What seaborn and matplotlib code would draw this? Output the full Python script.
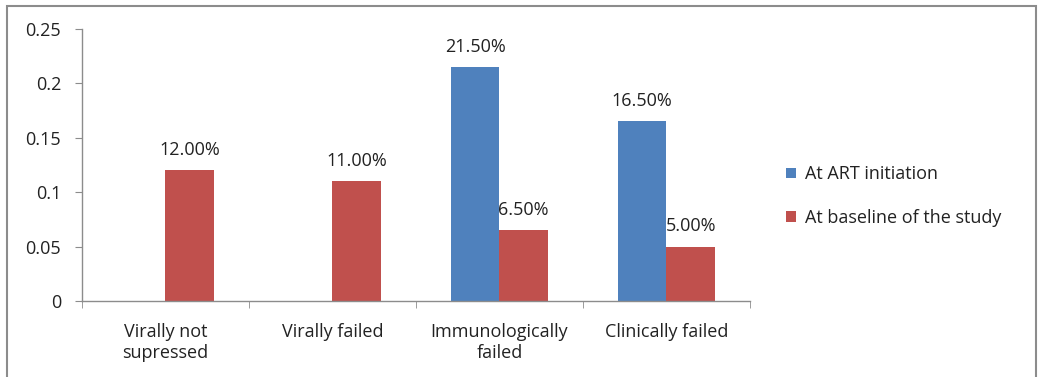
import matplotlib
matplotlib.use("Agg")
import matplotlib.pyplot as plt
import seaborn as sns
import pandas as pd
from matplotlib.patches import Rectangle

categories = ["Virally not\nsupressed", "Virally failed", "Immunologically\nfailed", "Clinically failed"]
series_names = ["At ART initiation", "At baseline of the study"]
art_initiation = [0.0, 0.0, 0.215, 0.165]
baseline_study = [0.12, 0.11, 0.065, 0.05]
colors = ["#4F81BD", "#C0504D"]

rows = []
for c, a, b in zip(categories, art_initiation, baseline_study):
    rows.append({"cat": c, "series": series_names[0], "val": a})
    rows.append({"cat": c, "series": series_names[1], "val": b})
df = pd.DataFrame(rows)

sns.set_style("white")
plt.rcParams["font.family"] = ["Open Sans", "DejaVu Sans"]
FS = 13

fig = plt.figure(figsize=(10.51, 3.77), dpi=100)
ax = fig.add_axes([0.078, 0.2016, 0.6356, 0.7214])

sns.barplot(data=df, x="cat", y="val", hue="series", palette=colors,
            width=0.58, ax=ax, linewidth=0, saturation=1, errorbar=None)

for cont in ax.containers:
    labels = [f"{v*100:.2f}%" if v > 0 else "" for v in cont.datavalues]
    ax.bar_label(cont, labels=labels, padding=8, fontsize=FS, color="#222222")

ax.set_ylim(0, 0.25)
ax.set_yticks([0, 0.05, 0.1, 0.15, 0.2, 0.25])
ax.set_yticklabels(["0", "0.05", "0.1", "0.15", "0.2", "0.25"])
ax.set_xlim(-0.5, 3.5)
ax.set_xlabel("")
ax.set_ylabel("")

for s in ["top", "right"]:
    ax.spines[s].set_visible(False)
for s in ["left", "bottom"]:
    ax.spines[s].set_color("#8c8c8c")
    ax.spines[s].set_linewidth(1)

ax.tick_params(axis="y", which="major", left=True, length=5, color="#8c8c8c",
               labelsize=FS, labelcolor="#222222", pad=10)
ax.tick_params(axis="x", which="major", bottom=False, labelsize=FS,
               labelcolor="#222222", pad=12)
for t in ax.get_xticklabels():
    t.set_linespacing(1.25)
ax.set_xticks([-0.5, 0.5, 1.5, 2.5, 3.5], minor=True)
ax.tick_params(axis="x", which="minor", bottom=True, length=5, color="#8c8c8c")

leg = ax.legend(loc="center left", bbox_to_anchor=(1.03, 0.386), frameon=False,
                fontsize=FS, handlelength=0.55, handleheight=0.55,
                handletextpad=0.5, labelspacing=1.4, labelcolor="#222222")

fig.patches.append(Rectangle((0.0067, -0.01), 0.979, 1.002 - 0.008,
                             transform=fig.transFigure, fill=False,
                             edgecolor="#8c8c8c", linewidth=1.5))

fig.savefig("out.png", dpi=100)
